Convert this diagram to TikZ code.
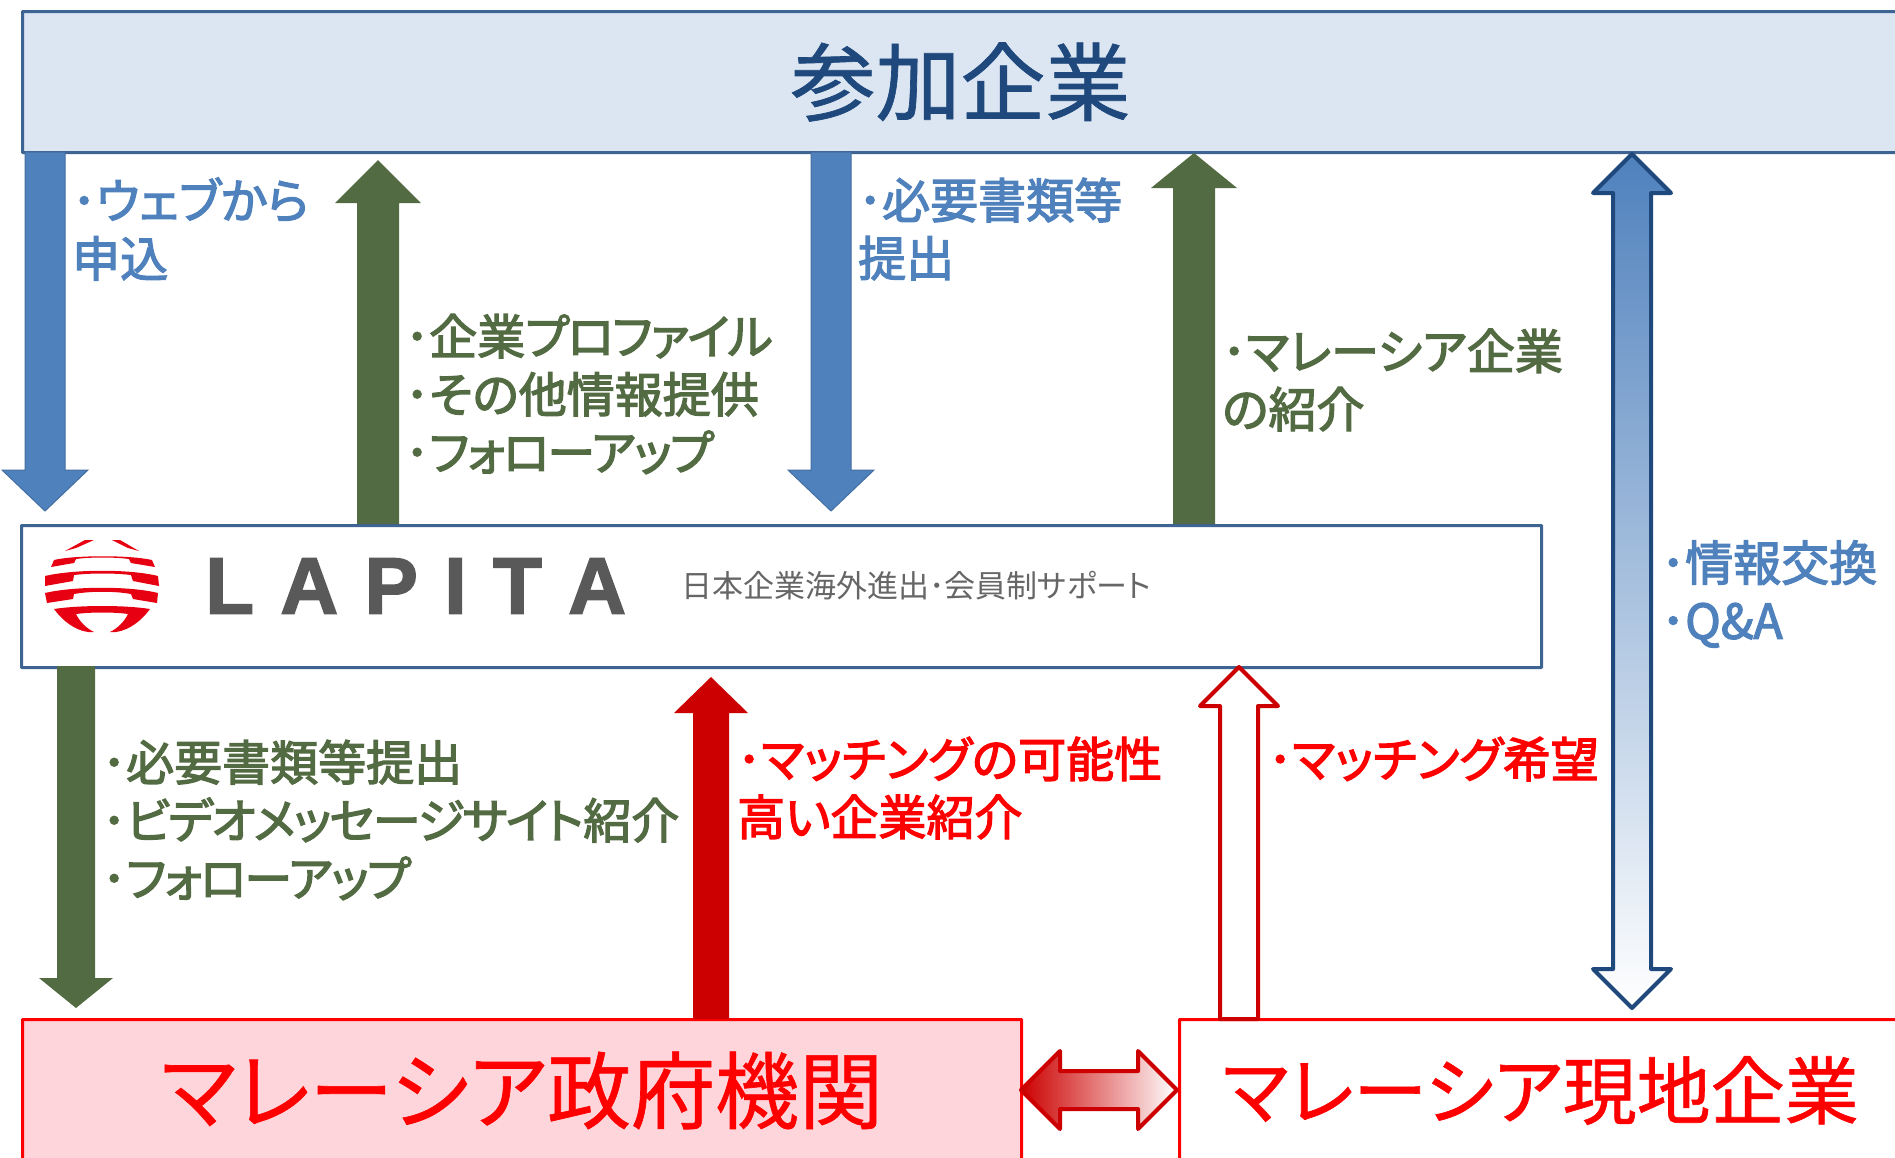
\documentclass[tikz,border=0pt]{standalone}
\usepackage{fontspec}
\usetikzlibrary{calc}
\setmainfont{Noto Sans CJK JP}[RawFeature={+palt}]
\newfontfamily\labfont{Noto Sans CJK JP}[RawFeature={+palt},FakeBold=2.6]
\newfontfamily\tightfont{Noto Sans CJK JP}[RawFeature={+palt},FakeBold=2.6,LetterSpace=-4]
\newfontfamily\headfont{Noto Sans CJK JP}[RawFeature={+palt},FakeBold=0.8]
\newfontfamily\logofont{Liberation Sans}[LetterSpace=33,Kerning=Off,BoldFeatures={FakeBold=2}]
\newcommand{\tk}[1]{{\tightfont\fontsize{48pt}{58pt}\selectfont #1}}
\definecolor{hdblue}{HTML}{1F497D}
\definecolor{topfill}{HTML}{DCE6F2}
\definecolor{boxline}{HTML}{3E6494}
\definecolor{ablue}{HTML}{4F81BD}
\definecolor{agreen}{HTML}{536B42}
\definecolor{ared}{HTML}{CC0000}
\definecolor{pinkfill}{HTML}{FFD5DC}
\definecolor{logored}{HTML}{E60012}
\definecolor{logogrey}{HTML}{595959}
\newcommand{\fsz}[1]{\fontsize{#1pt}{#1pt}\selectfont}
% style, start, tip, head length, head half width, shaft half width
\newcommand{\blockarrow}[6]{%
  \coordinate (hb) at ($(#3)!#4pt!(#2)$);
  \path[#1] ($(#2)!#6pt!90:(#3)$) -- ($(hb)!#6pt!90:(#3)$) -- ($(hb)!#5pt!90:(#3)$) -- (#3)
    -- ($(hb)!#5pt!-90:(#3)$) -- ($(hb)!#6pt!-90:(#3)$) -- ($(#2)!#6pt!-90:(#3)$) -- cycle;}
% style, tip, tip, head length, head half width, shaft half width
\newcommand{\doublearrow}[6]{%
  \coordinate (hb) at ($(#3)!#4pt!(#2)$);
  \coordinate (ha) at ($(#2)!#4pt!(#3)$);
  \path[#1] (#2) -- ($(ha)!#5pt!90:(#3)$) -- ($(ha)!#6pt!90:(#3)$) -- ($(hb)!#6pt!90:(#3)$)
    -- ($(hb)!#5pt!90:(#3)$) -- (#3) -- ($(hb)!#5pt!-90:(#3)$) -- ($(hb)!#6pt!-90:(#3)$)
    -- ($(ha)!#6pt!-90:(#3)$) -- ($(ha)!#5pt!-90:(#3)$) -- cycle;}
\tikzset{
  bigbox/.style={draw=boxline,line width=3pt,rounded corners=0.5pt,inner sep=0pt,anchor=north west},
  lab/.style={anchor=west,align=left,inner sep=0pt,font=\labfont\fontsize{48pt}{58pt}\selectfont},
  labblue/.style={lab,text=ablue},
  labgreen/.style={lab,text=agreen},
  labred/.style={lab,text=red},
  bluearrow/.style={fill=ablue,draw=ablue!85!black,line width=1pt},
  greenarrow/.style={fill=agreen},
  redarrow/.style={fill=ared},
  hollowarrow/.style={fill=white,draw=ared,line width=4pt,line join=round},
}
\begin{document}
\begin{tikzpicture}[x=1pt,y=-1pt]
\useasboundingbox (0,0) rectangle (1895,1157);
\fill[white] (0,0) rectangle (1895,1157);

% boxes
\node[bigbox,fill=topfill,text=hdblue,minimum width=1876pt,minimum height=141pt,font=\headfont\fsz{85}] (top) at (21,10) {参加企業};
\node[bigbox,fill=white,minimum width=1520pt,minimum height=142pt] (lapita) at (20,524) {};
\node[bigbox,draw=red,fill=pinkfill,text=red,minimum width=999pt,minimum height=142pt,font=\headfont\fsz{84}] (gov) at (21,1018) {マレーシア政府機関};
\node[bigbox,draw=red,fill=white,text=red,minimum width=722pt,minimum height=142pt,font=\headfont\fsz{74}] (local) at (1178,1018) {マレーシア現地企業};

% arrow end points
\coordinate (a1s) at (45,152);  \coordinate (a1t) at (45,511);
\coordinate (a2s) at (378,524); \coordinate (a2t) at (378,160);
\coordinate (a3s) at (831,152); \coordinate (a3t) at (831,511);
\coordinate (a4s) at (1194,524);\coordinate (a4t) at (1194,153);
\coordinate (a5s) at (76,666);  \coordinate (a5t) at (76,1008);
\coordinate (a6s) at (711,1019);\coordinate (a6t) at (711,677);
\coordinate (a7s) at (1239,1019);\coordinate (a7t) at (1239,667);
\coordinate (a8a) at (1632,154);\coordinate (a8b) at (1632,1008);
\coordinate (a9a) at (1021,1090);\coordinate (a9b) at (1177,1090);

% block arrows
\blockarrow{bluearrow}{a1s}{a1t}{41}{43}{20}
\blockarrow{greenarrow}{a2s}{a2t}{43}{43}{21}
\blockarrow{bluearrow}{a3s}{a3t}{41}{43}{20}
\blockarrow{greenarrow}{a4s}{a4t}{35}{43}{21}
\blockarrow{greenarrow}{a5s}{a5t}{30}{37}{19}
\blockarrow{redarrow}{a6s}{a6t}{36}{37}{18}
\blockarrow{hollowarrow}{a7s}{a7t}{39}{39}{19}
\doublearrow{shade,top color=ablue,bottom color=white,draw=hdblue,line width=4pt,line join=round}{a8a}{a8b}{39}{39}{19}
\doublearrow{shade,left color=ared,right color=white,draw=ared,line width=4pt,line join=round}{a9a}{a9b}{39}{39}{19}

% labels
\node[labblue] (t1) at (72,229) {･ウェブから\\申込};
\node[labgreen] (t2) at (405,394) {･企業\tk{プロファイル}\\･その他情報提供\\･\tk{フォローアップ}};
\node[labblue] (t3) at (858,229) {･必要書類等\\提出};
\node[labgreen] (t4) at (1222,380) {･マレーシア企業\\の紹介};
\node[labblue] (t5) at (1661,594) {･情報交換\\･Q\&A};
\node[labgreen] (t6) at (102,820) {･必要書類等提出\\･\tk{ビデオメッセージサイト}紹介\\･\tk{フォローアップ}};
\node[labred] (t7) at (737,788) {･マッチングの可能性\\高い企業紹介};
\node[labred] (t8) at (1268,759) {･マッチング希望};

% logo
\fill[logored] (65,551) -- (85,540) -- (94,540) -- (76,548) -- cycle;
\fill[logored] (139,551) -- (120,540) -- (112,540) -- (128,548) -- cycle;
\fill[logored] (51,567) -- (54,560) .. controls (75,555) and (130,555) .. (152,560) -- (155,567) -- (131,563) -- (129,559) .. controls (115,557) and (90,557) .. (76,559) -- (74,563) -- cycle;
\fill[logored] (45,586) -- (45,576) .. controls (75,569) and (130,569) .. (158,576) -- (159,586) -- (133,581) -- (131,575) .. controls (115,573) and (90,573) .. (74,575) -- (73,581) -- cycle;
\fill[logored] (47,603) -- (45,593) .. controls (75,586) and (130,586) .. (158,593) -- (157,603) -- (133,599) -- (131,594) .. controls (115,591) and (90,591) .. (74,594) -- (73,599) -- cycle;
\fill[logored] (54,609) .. controls (80,605) and (125,605) .. (150,609) .. controls (142,620) and (130,630) .. (116,632) -- (110,632) .. controls (118,628) and (124,622) .. (128,614) .. controls (115,612) and (90,612) .. (76,614) .. controls (80,622) and (86,628) .. (94,632) -- (88,632) .. controls (74,630) and (62,620) .. (54,609) -- cycle;
\node[anchor=west,inner sep=0pt,text=logogrey] (logoname) at (205,586) {\logofont\fontsize{80pt}{80pt}\selectfont\bfseries LAPITA};
\node[anchor=west,inner sep=0pt,text=black!60,font=\fsz{31}] (logosub) at (681,586) {日本企業海外進出･会員制サポート};
\end{tikzpicture}
\end{document}
